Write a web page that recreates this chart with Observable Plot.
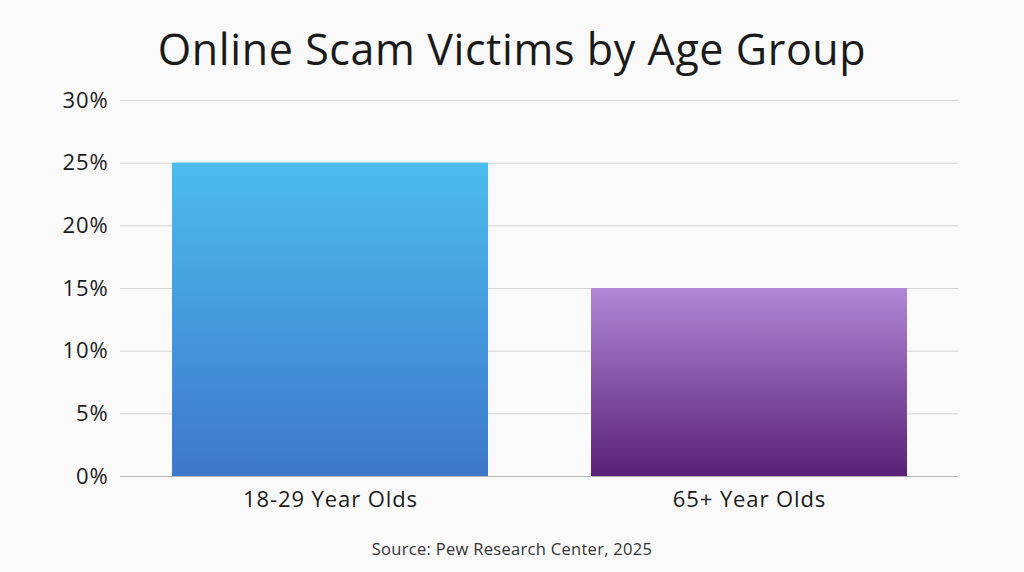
<!DOCTYPE html>
<html>
<head>
<meta charset="utf-8">
<script src="https://cdn.jsdelivr.net/npm/d3@7"></script>
<script src="https://cdn.jsdelivr.net/npm/@observablehq/plot@0.6"></script>
<style>
  html, body { margin: 0; padding: 0; background: #fafafa; }
  #wrap { width: 1024px; height: 572px; position: relative; font-family: "Open Sans", sans-serif; color: #1a1a1a; }
  #title { position: absolute; top: 0; left: 0; width: 1024px; height: 80px; line-height: 98px; text-align: center; font-size: 43px; font-weight: 400; letter-spacing: 0.6px; }
  #chart { position: absolute; top: 80px; left: 0; }
  #caption { position: absolute; top: 537px; left: 0; width: 1024px; text-align: center; font-size: 16.5px; letter-spacing: 0.3px; color: #333; }
  #chart svg text { letter-spacing: 0.9px; }
</style>
</head>
<body>
<div id="wrap">
  <div id="title">Online Scam Victims by Age Group</div>
  <div id="chart"></div>
  <div id="caption">Source: Pew Research Center, 2025</div>
</div>
<script>
// Share of adults reporting they were victims of an online scam
const groups = ["18-29 Year Olds", "65+ Year Olds"];
const shares = [25, 15];
const gradients = ["url(#grad-young)", "url(#grad-old)"];
const yTicks = [0, 5, 10, 15, 20, 25, 30];

const data = groups.map((g, i) => ({group: g, share: shares[i], fill: gradients[i]}));

const chart = Plot.plot({
  width: 1024,
  height: 446,
  marginTop: 20,
  marginBottom: 50,
  marginLeft: 120,
  marginRight: 66,
  style: {background: "transparent", fontFamily: "Open Sans, sans-serif", fontSize: "22px", color: "#1a1a1a"},
  x: {domain: groups, paddingInner: 0.246, paddingOuter: 0.122, label: null, tickSize: 0, tickPadding: 15},
  y: {domain: [0, 30], ticks: yTicks, tickFormat: d => d + "%", label: null, tickSize: 0, tickPadding: 12},
  color: {type: "identity"},
  marks: [
    Plot.gridY(yTicks.filter(t => t > 0), {stroke: "#d4d4d4", strokeOpacity: 1, strokeWidth: 1}),
    Plot.barY(data, {x: "group", y: "share", fill: "fill"}),
    Plot.ruleY([0], {stroke: "#b5b5b5", strokeWidth: 1.2})
  ]
});

// vertical gradients used by the two bars
const defs = d3.select(chart).insert("defs", ":first-child");
const addGradient = (id, top, bottom) => {
  const g = defs.append("linearGradient").attr("id", id)
    .attr("x1", 0).attr("y1", 0).attr("x2", 0).attr("y2", 1);
  g.append("stop").attr("offset", "0%").attr("stop-color", top);
  g.append("stop").attr("offset", "100%").attr("stop-color", bottom);
};
addGradient("grad-young", "#4bbcee", "#3e78ca");
addGradient("grad-old", "#b187d6", "#5a2177");

document.getElementById("chart").appendChild(chart);
</script>
</body>
</html>
